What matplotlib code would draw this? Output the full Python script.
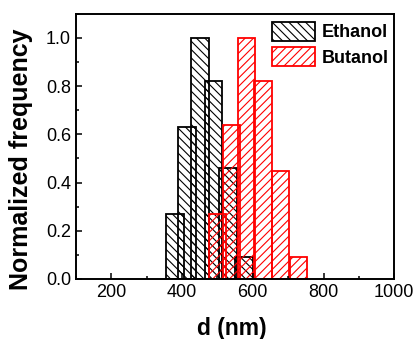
import matplotlib
matplotlib.use("Agg")
import matplotlib.pyplot as plt
from matplotlib.patches import Patch
from matplotlib.ticker import MultipleLocator

plt.rcParams["font.family"] = ["Liberation Sans", "DejaVu Sans"]
plt.rcParams["hatch.linewidth"] = 0.8

# ── 数据 ──
eth_d = [381, 414, 450, 489, 530, 576]
eth_freq = [0.27, 0.63, 1.0, 0.82, 0.46, 0.09]
but_d = [500, 540, 582, 629, 678, 729]
but_freq = [0.27, 0.64, 1.0, 0.82, 0.45, 0.09]
bin_width = 50

fig = plt.figure(figsize=(4.15, 3.39), dpi=100)
ax = fig.add_axes([0.183, 0.177, 0.767, 0.782])

ax.bar(eth_d, eth_freq, width=bin_width, facecolor="none", edgecolor="black",
       hatch="\\\\\\\\", linewidth=1.3)
ax.bar(but_d, but_freq, width=bin_width, facecolor="none", edgecolor="red",
       hatch="////", linewidth=1.3)

ax.set_xlim(100, 1000)
ax.set_ylim(0, 1.1)
ax.xaxis.set_major_locator(MultipleLocator(200))
ax.xaxis.set_minor_locator(MultipleLocator(100))
ax.yaxis.set_major_locator(MultipleLocator(0.2))
ax.yaxis.set_minor_locator(MultipleLocator(0.1))
ax.tick_params(which="both", direction="in", width=1.1, labelsize=13, pad=3.5)
ax.tick_params(which="major", length=4)
ax.tick_params(which="minor", length=2.5)
for s in ax.spines.values():
    s.set_linewidth(1.4)

ax.set_xlabel("d (nm)", fontsize=16.5, fontweight="bold")
ax.set_ylabel("Normalized frequency", fontsize=18, fontweight="bold")
ax.xaxis.set_label_coords(0.49, -0.145)
ax.yaxis.set_label_coords(-0.135, 0.45)

handles = [
    Patch(facecolor="none", edgecolor="black", hatch="\\\\\\\\", linewidth=1.3, label="Ethanol"),
    Patch(facecolor="none", edgecolor="red", hatch="////", linewidth=1.3, label="Butanol"),
]
ax.legend(handles=handles, loc="upper left", bbox_to_anchor=(0.616, 0.97),
          frameon=False, borderpad=0, borderaxespad=0,
          prop={"weight": "bold", "size": 13},
          handlelength=2.4, handleheight=1.25, handletextpad=0.35, labelspacing=0.3)

plt.savefig("out.png", dpi=100)
plt.close()
